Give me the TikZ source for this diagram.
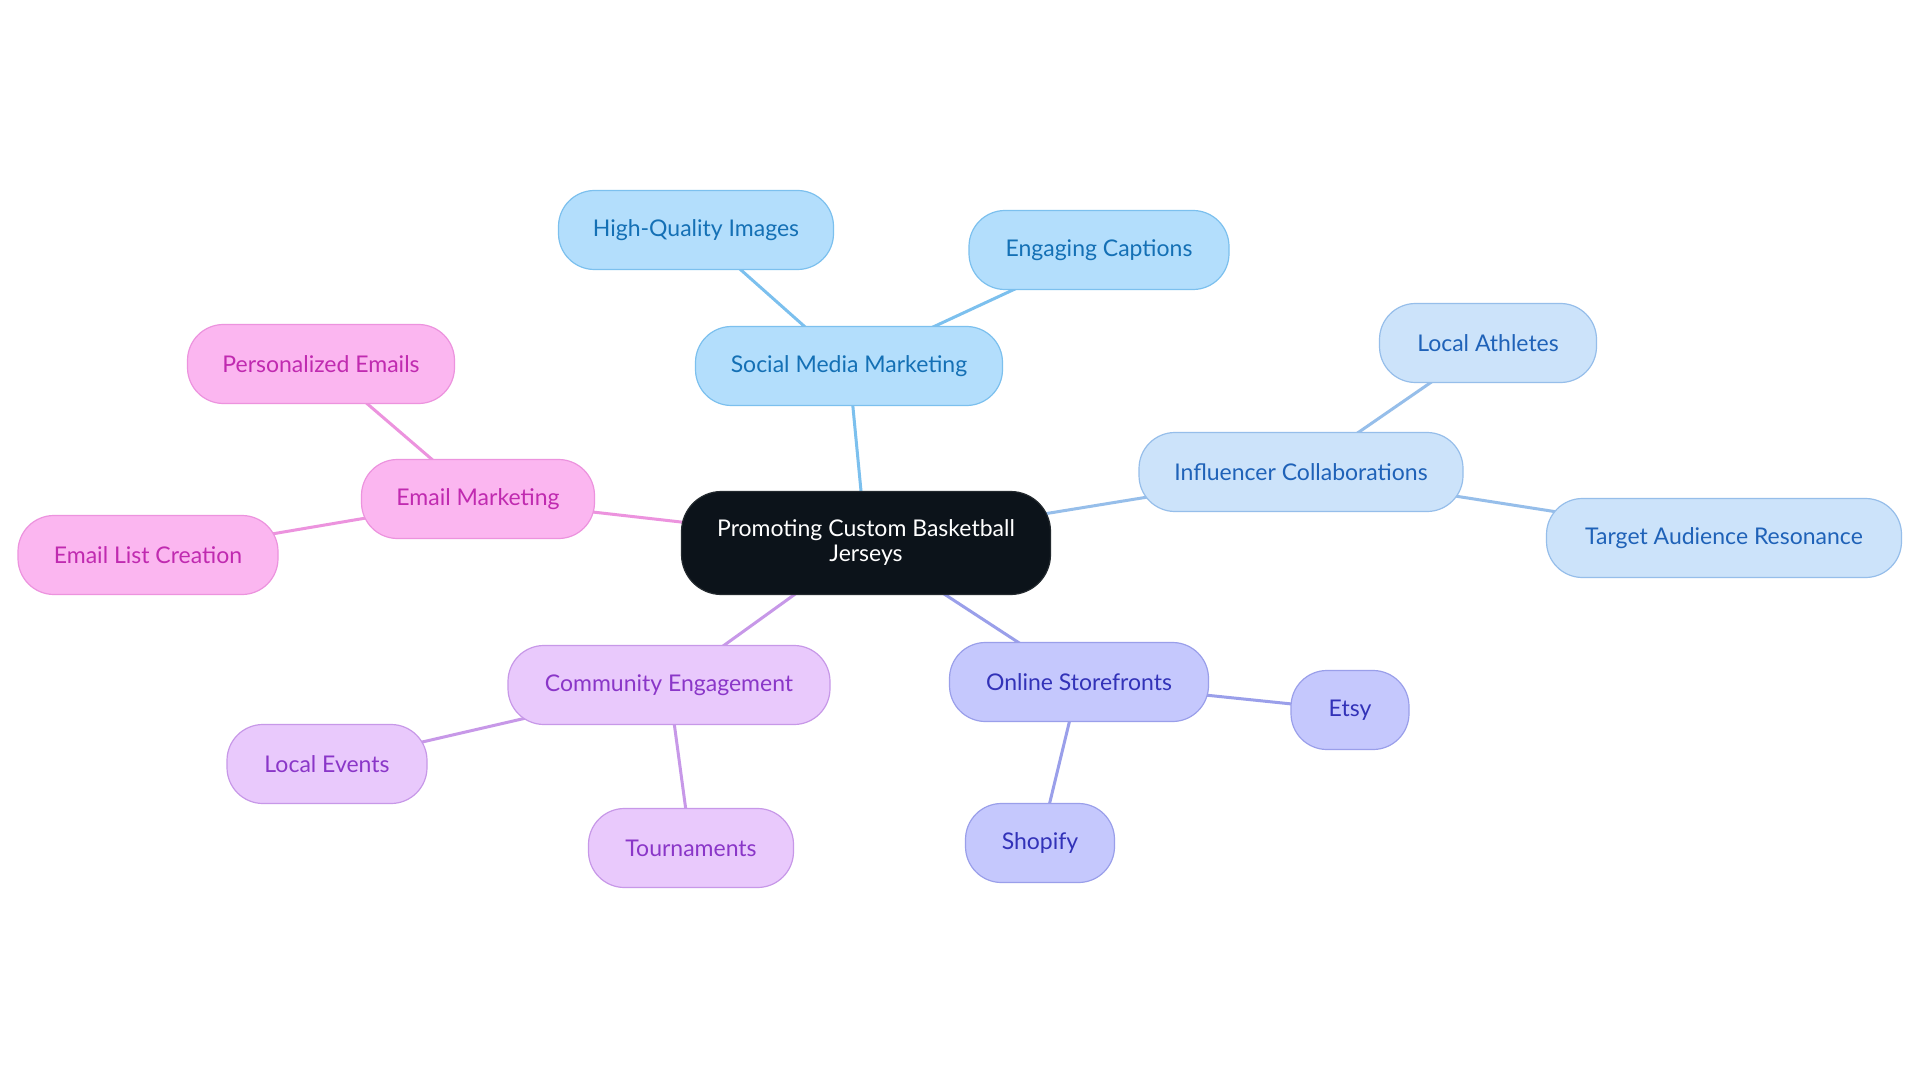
\documentclass[tikz,border=0pt]{standalone}
\usepackage{fontspec}
\setmainfont{Lato}
\usetikzlibrary{backgrounds}
\definecolor{cdark}{HTML}{0C131A}
\definecolor{bfill}{HTML}{B3DEFC}\definecolor{bdraw}{HTML}{7CC0EE}\definecolor{btext}{HTML}{1470B5}
\definecolor{ifill}{HTML}{CCE3FA}\definecolor{idraw}{HTML}{96BEEA}\definecolor{itext}{HTML}{1F62B8}
\definecolor{efill}{HTML}{FBB6F0}\definecolor{edraw}{HTML}{EC93DE}\definecolor{etext}{HTML}{C02AB0}
\definecolor{cfill}{HTML}{E9C9FC}\definecolor{cdraw}{HTML}{C798E8}\definecolor{ctext}{HTML}{8A36C8}
\definecolor{ofill}{HTML}{C5C8FD}\definecolor{odraw}{HTML}{9A9FEA}\definecolor{otext}{HTML}{3232B8}
\tikzset{
  pill/.style={rounded corners=36pt, minimum height=79pt, inner sep=0pt, line width=1.2pt, font=\fontsize{23}{25}\selectfont},
  root/.style={pill, fill=cdark, draw=cdark!80!gray, text=white, minimum height=103pt, rounded corners=40pt, align=center},
  bnode/.style={pill, fill=bfill, draw=bdraw, text=btext},
  inode/.style={pill, fill=ifill, draw=idraw, text=itext},
  enode/.style={pill, fill=efill, draw=edraw, text=etext},
  cnode/.style={pill, fill=cfill, draw=cdraw, text=ctext},
  onode/.style={pill, fill=ofill, draw=odraw, text=otext},
  link/.style={line width=3pt},
}
\begin{document}
\begin{tikzpicture}[x=1pt,y=-1pt]
\useasboundingbox (0,0) rectangle (1920,1083);
\node[root, minimum width=369pt] (root) at (866,543) {Promoting Custom Basketball\\Jerseys};
\node[bnode, minimum width=307pt] (smm) at (849,366) {Social Media Marketing};
\node[bnode, minimum width=275pt] (hqi) at (696,230) {High-Quality Images};
\node[bnode, minimum width=260pt] (eng) at (1099,250) {Engaging Captions};
\node[inode, minimum width=324pt] (inf) at (1301,472) {Influencer Collaborations};
\node[inode, minimum width=217pt] (lat) at (1488,343) {Local Athletes};
\node[inode, minimum width=355pt] (tar) at (1724,538) {Target Audience Resonance};
\node[enode, minimum width=233pt] (em) at (478,499) {Email Marketing};
\node[enode, minimum width=267pt] (pe) at (321,364) {Personalized Emails};
\node[enode, minimum width=260pt] (elc) at (148,555) {Email List Creation};
\node[cnode, minimum width=322pt] (ce) at (669,685) {Community Engagement};
\node[cnode, minimum width=200pt] (le) at (327,764) {Local Events};
\node[cnode, minimum width=205pt] (tou) at (691,848) {Tournaments};
\node[onode, minimum width=259pt] (os) at (1079,682) {Online Storefronts};
\node[onode, minimum width=118pt] (ets) at (1350,710) {Etsy};
\node[onode, minimum width=149pt] (sho) at (1040,843) {Shopify};
\begin{scope}[on background layer]
\fill[white] (0,0) rectangle (1920,1083);
\draw[link, bdraw] (root.center) -- (smm.center);
\draw[link, bdraw] (smm.center) -- (hqi.center);
\draw[link, bdraw] (smm.center) -- (eng.center);
\draw[link, idraw] (root.center) -- (inf.center);
\draw[link, idraw] (inf.center) -- (lat.center);
\draw[link, idraw] (inf.center) -- (tar.center);
\draw[link, edraw] (root.center) -- (em.center);
\draw[link, edraw] (em.center) -- (pe.center);
\draw[link, edraw] (em.center) -- (elc.center);
\draw[link, cdraw] (root.center) -- (ce.center);
\draw[link, cdraw] (ce.center) -- (le.center);
\draw[link, cdraw] (ce.center) -- (tou.center);
\draw[link, odraw] (root.center) -- (os.center);
\draw[link, odraw] (os.center) -- (ets.center);
\draw[link, odraw] (os.center) -- (sho.center);
\end{scope}
\end{tikzpicture}
\end{document}
